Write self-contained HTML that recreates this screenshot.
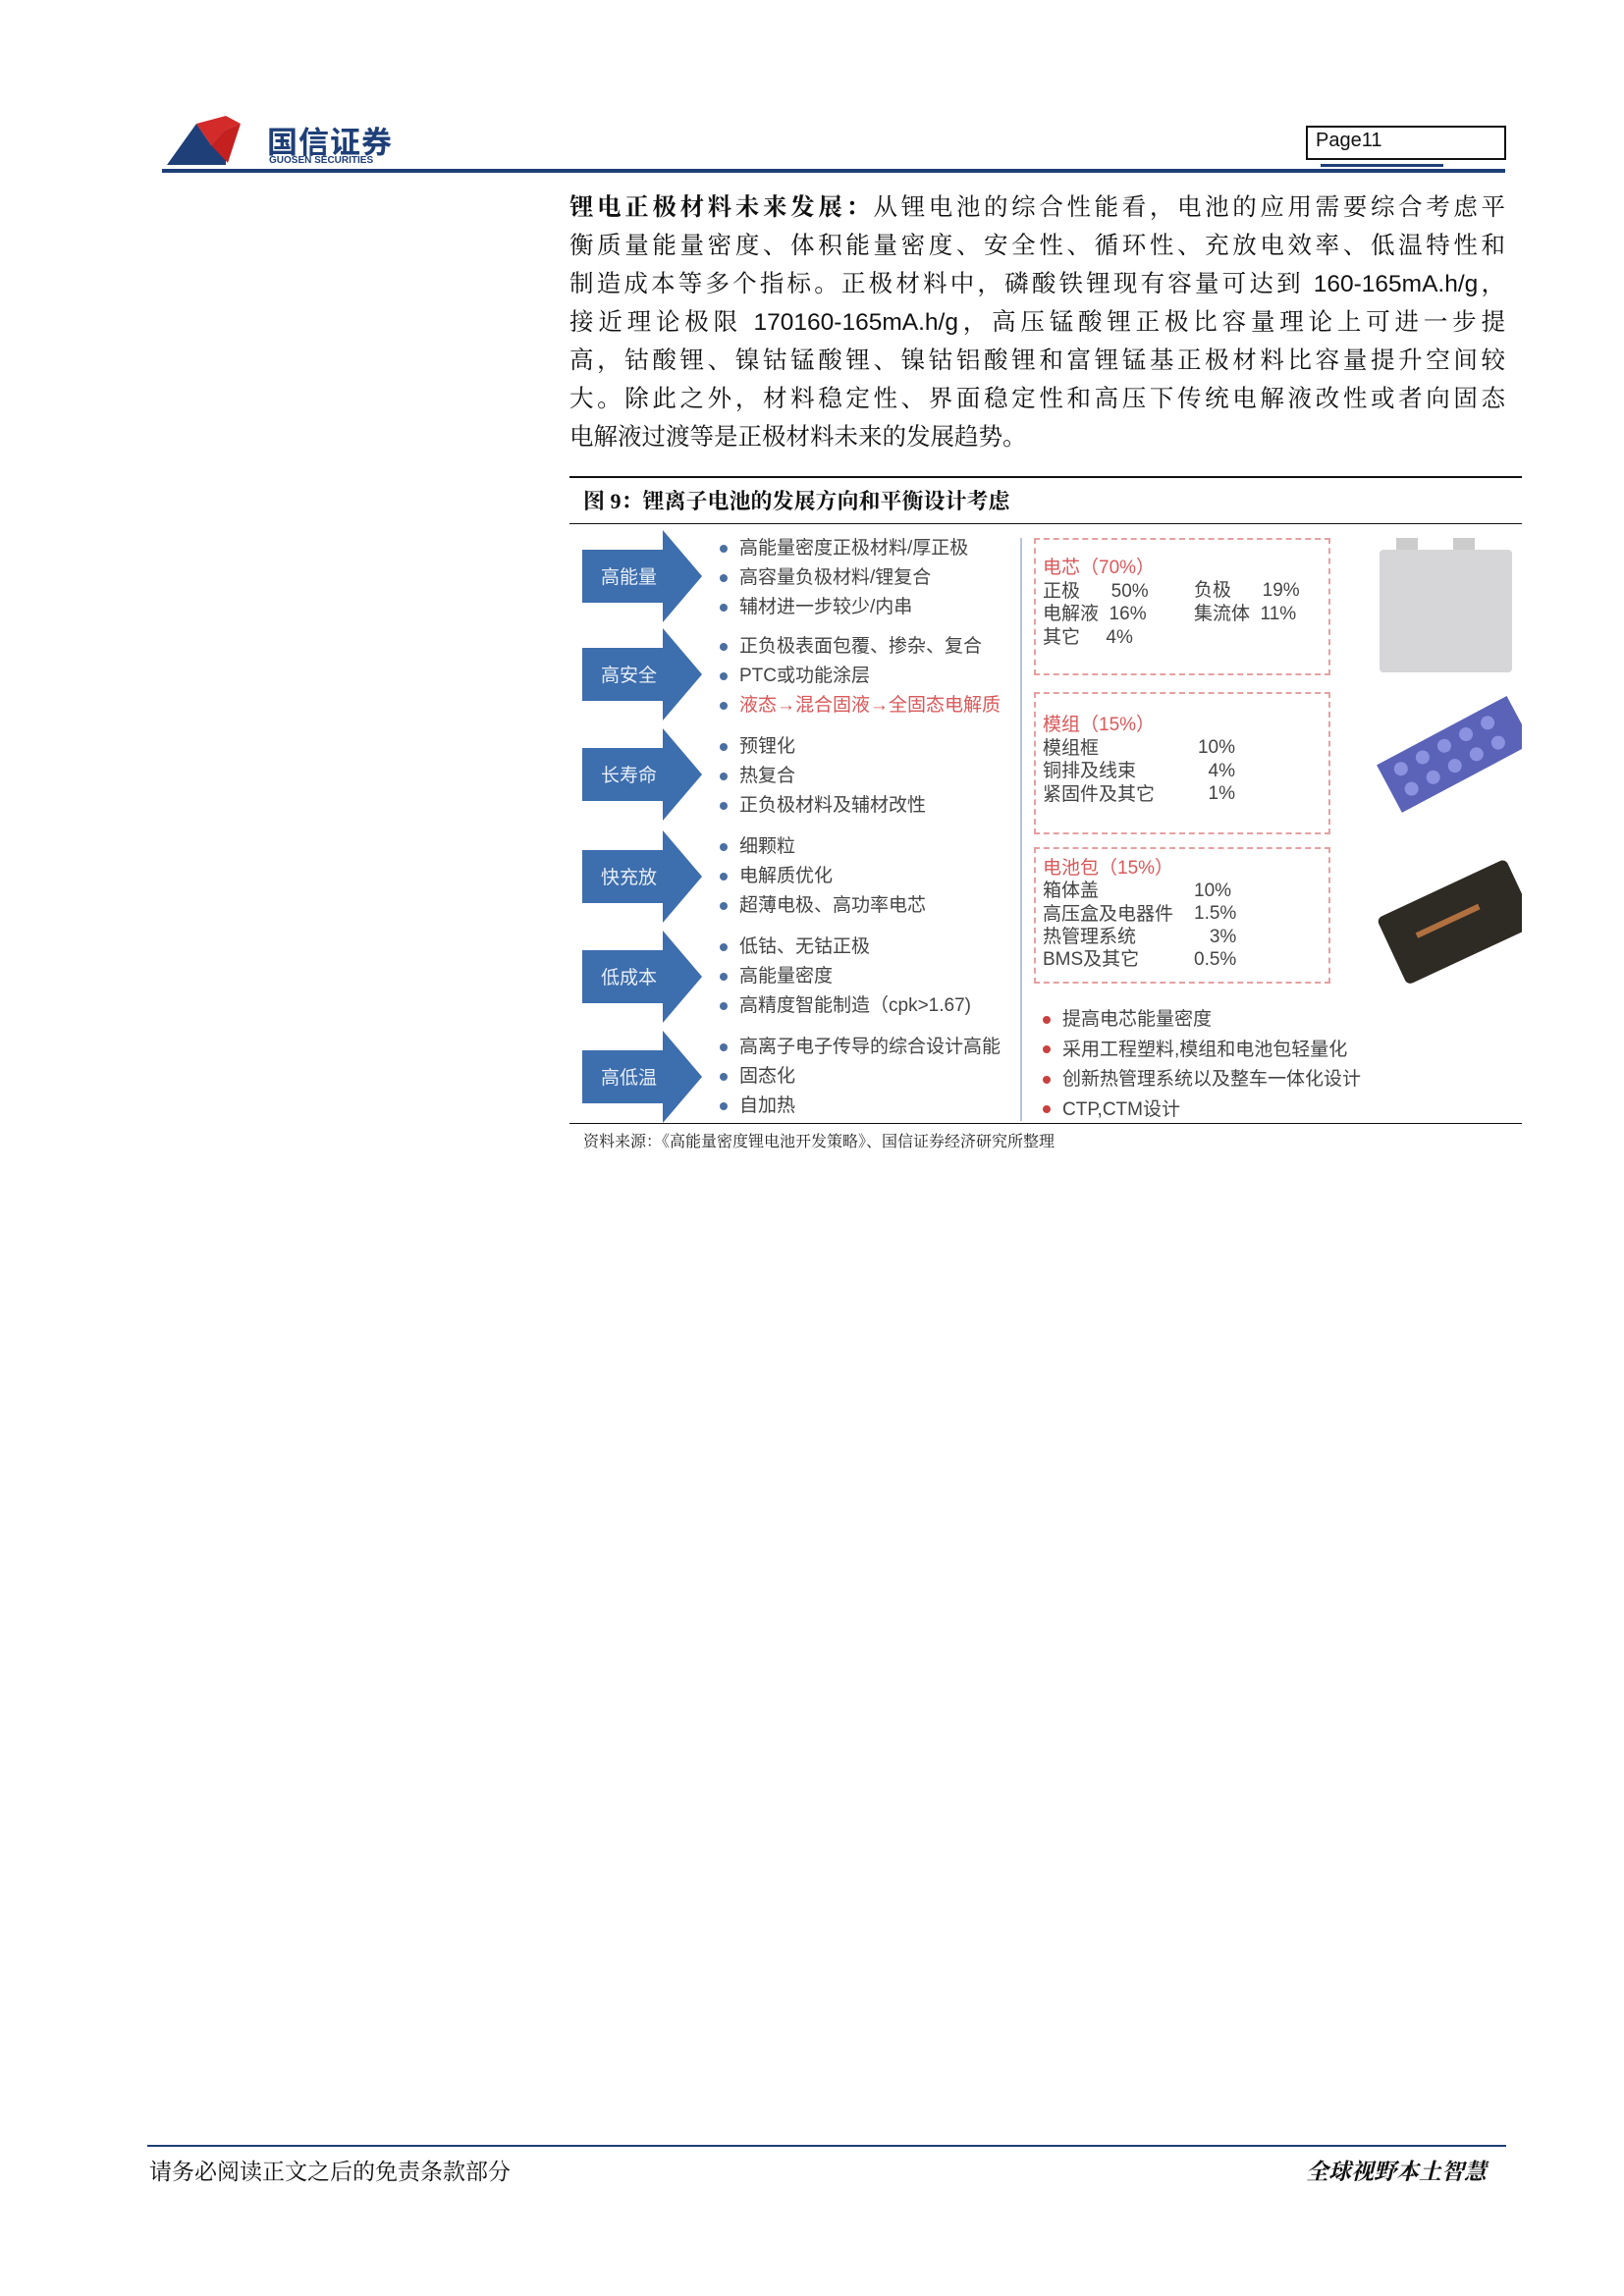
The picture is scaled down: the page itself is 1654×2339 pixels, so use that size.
<!DOCTYPE html>
<html><head><meta charset="utf-8"><style>
body{margin:0;background:#fff;}
#p{position:relative;width:1654px;height:2339px;overflow:hidden;font-family:"Liberation Sans","Noto Sans CJK SC",sans-serif;}
.a{position:absolute;white-space:nowrap;}
.ln{position:absolute;left:580px;width:953px;height:39px;font-family:"Liberation Sans","Noto Serif CJK SC",serif;font-size:24.5px;line-height:39px;color:#111;text-align:justify;text-align-last:justify;white-space:nowrap;}
.t{font-size:19px;color:#444;}
.d{display:inline-block;width:8px;height:8px;border-radius:50%;background:#4a6fa0;margin-right:12px;vertical-align:middle;}
.rd{background:#c8413f;}
.box{position:absolute;border:2px dashed #e6a0a0;}
.r{color:#d9585a;}
</style></head><body><div id="p">
<!-- logo -->
<svg class="a" style="left:170px;top:118px" width="100" height="58" viewBox="0 0 100 58">
<polygon points="0,50 30,8 45,30 60,14 60,50" fill="#1e3f78"/>
<polygon points="30,8 60,0 75,8 60,14 45,30" fill="#d32a2a"/>
<polygon points="45,30 60,14 75,8 62,48" fill="#c42020"/>
</svg>
<div class="a" style="left:272px;top:120px;font-size:31px;font-weight:bold;color:#1e3f78;letter-spacing:1px">国信证券</div>
<div class="a" style="left:274px;top:158px;font-size:10px;font-weight:bold;color:#1e3f78">GUOSEN SECURITIES</div>
<div class="a" style="left:165px;top:172px;width:1368px;height:4px;background:#1e3f78"></div>
<div class="a" style="left:1330px;top:128px;width:200px;height:31px;border:2px solid #111;"></div>
<div class="a" style="left:1340px;top:132px;font-size:20px;color:#111">Page11</div>
<div class="a" style="left:1345px;top:167px;width:125px;height:3px;background:#1e3f78"></div>

<div class="ln" style="top:192px"><b>锂电正极材料未来发展：</b>从锂电池的综合性能看，电池的应用需要综合考虑平</div>
<div class="ln" style="top:231px">衡质量能量密度、体积能量密度、安全性、循环性、充放电效率、低温特性和</div>
<div class="ln" style="top:270px">制造成本等多个指标。正极材料中，磷酸铁锂现有容量可达到 160-165mA.h/g，</div>
<div class="ln" style="top:309px">接近理论极限 170160-165mA.h/g，高压锰酸锂正极比容量理论上可进一步提</div>
<div class="ln" style="top:348px">高，钴酸锂、镍钴锰酸锂、镍钴铝酸锂和富锂锰基正极材料比容量提升空间较</div>
<div class="ln" style="top:387px">大。除此之外，材料稳定性、界面稳定性和高压下传统电解液改性或者向固态</div>
<div class="ln" style="top:426px;text-align-last:left">电解液过渡等是正极材料未来的发展趋势。</div>

<div class="a" style="left:580px;top:485px;width:970px;height:2px;background:#111"></div>
<div class="a" style="left:594px;top:494px;font-size:22px;font-weight:bold;font-family:'Liberation Serif','Noto Serif CJK SC',serif;color:#111">图 9：锂离子电池的发展方向和平衡设计考虑</div>
<div class="a" style="left:580px;top:533px;width:970px;height:1px;background:#111"></div>

<!-- arrows -->
<svg class="a" style="left:590px;top:540px" width="130" height="605">
<g fill="#3d6eae">
<polygon points="3,20 85,20 85,0 125,47 85,94 85,74 3,74"/>
<polygon points="3,120 85,120 85,100 125,147 85,194 85,174 3,174"/>
<polygon points="3,222 85,222 85,202 125,249 85,296 85,276 3,276"/>
<polygon points="3,326 85,326 85,306 125,353 85,400 85,380 3,380"/>
<polygon points="3,428 85,428 85,408 125,455 85,502 85,482 3,482"/>
<polygon points="3,530 85,530 85,510 125,557 85,604 85,584 3,584"/>
</g>
<g fill="#e8eef7" font-size="19" font-family="Liberation Sans,Noto Sans CJK SC,sans-serif">
<text x="22" y="54">高能量</text><text x="22" y="154">高安全</text><text x="22" y="256">长寿命</text>
<text x="22" y="360">快充放</text><text x="22" y="462">低成本</text><text x="22" y="564">高低温</text>
</g></svg>

<div class="a t" style="left:733px;top:544px;line-height:30px">
<div><span class="d"></span>高能量密度正极材料/厚正极</div>
<div><span class="d"></span>高容量负极材料/锂复合</div>
<div><span class="d"></span>辅材进一步较少/内串</div>
</div>
<div class="a t" style="left:733px;top:644px;line-height:30px">
<div><span class="d"></span>正负极表面包覆、掺杂、复合</div>
<div><span class="d"></span>PTC或功能涂层</div>
<div class="r"><span class="d"></span>液态→混合固液→全固态电解质</div>
</div>
<div class="a t" style="left:733px;top:746px;line-height:30px">
<div><span class="d"></span>预锂化</div>
<div><span class="d"></span>热复合</div>
<div><span class="d"></span>正负极材料及辅材改性</div>
</div>
<div class="a t" style="left:733px;top:848px;line-height:30px">
<div><span class="d"></span>细颗粒</div>
<div><span class="d"></span>电解质优化</div>
<div><span class="d"></span>超薄电极、高功率电芯</div>
</div>
<div class="a t" style="left:733px;top:950px;line-height:30px">
<div><span class="d"></span>低钴、无钴正极</div>
<div><span class="d"></span>高能量密度</div>
<div><span class="d"></span>高精度智能制造（cpk&gt;1.67)</div>
</div>
<div class="a t" style="left:733px;top:1052px;line-height:30px">
<div><span class="d"></span>高离子电子传导的综合设计高能</div>
<div><span class="d"></span>固态化</div>
<div><span class="d"></span>自加热</div>
</div>

<div class="a" style="left:1039px;top:548px;width:2px;height:594px;background:#b8c4d4"></div>

<div class="box" style="left:1053px;top:548px;width:298px;height:136px"></div>
<div class="box" style="left:1053px;top:705px;width:298px;height:141px"></div>
<div class="box" style="left:1053px;top:863px;width:298px;height:135px"></div>

<div class="a t" style="left:1062px;top:567px;line-height:23.5px">
<div class="r">电芯（70%）</div>
<div>正极&nbsp;&nbsp;&nbsp;&nbsp;&nbsp;&nbsp;50%</div><div>电解液&nbsp;&nbsp;16%</div><div>其它&nbsp;&nbsp;&nbsp;&nbsp;&nbsp;4%</div>
</div>
<div class="a t" style="left:1216px;top:590px;line-height:23.5px"><div>负极&nbsp;&nbsp;&nbsp;&nbsp;&nbsp;&nbsp;19%</div><div>集流体&nbsp;&nbsp;11%</div></div>

<div class="a t" style="left:1062px;top:727px;line-height:23.5px">
<div class="r">模组（15%）</div><div>模组框</div><div>铜排及线束</div><div>紧固件及其它</div></div>
<div class="a t" style="left:1216px;top:750px;line-height:23.5px;text-align:right;width:42px"><div>10%</div><div>4%</div><div>1%</div></div>

<div class="a t" style="left:1062px;top:873px;line-height:23.3px">
<div class="r">电池包（15%）</div><div>箱体盖</div><div>高压盒及电器件</div><div>热管理系统</div><div>BMS及其它</div></div>
<div class="a t" style="left:1216px;top:896px;line-height:23.3px"><div>10%</div><div>1.5%</div><div>&nbsp;&nbsp;&nbsp;3%</div><div>0.5%</div></div>

<div class="a t" style="left:1062px;top:1024px;line-height:30.5px">
<div><span class="d rd"></span>提高电芯能量密度</div>
<div><span class="d rd"></span>采用工程塑料,模组和电池包轻量化</div>
<div><span class="d rd"></span>创新热管理系统以及整车一体化设计</div>
<div><span class="d rd"></span>CTP,CTM设计</div>
</div>

<!-- images -->
<svg class="a" style="left:1400px;top:548px" width="150" height="460">
<rect x="22" y="0" width="22" height="14" fill="#ccc"/><rect x="80" y="0" width="22" height="14" fill="#ccc"/>
<rect x="5" y="12" width="135" height="125" rx="4" fill="#d6d6d8"/>
<g transform="translate(8,165) rotate(-28 70 60)">
<rect x="0" y="30" width="150" height="55" fill="#5a63b8"/>
<g fill="#8b93e0"><circle cx="20" cy="45" r="7"/><circle cx="45" cy="45" r="7"/><circle cx="70" cy="45" r="7"/><circle cx="95" cy="45" r="7"/><circle cx="120" cy="45" r="7"/>
<circle cx="20" cy="68" r="7"/><circle cx="45" cy="68" r="7"/><circle cx="70" cy="68" r="7"/><circle cx="95" cy="68" r="7"/><circle cx="120" cy="68" r="7"/></g>
</g>
<g transform="translate(10,340) rotate(-25 70 50)">
<rect x="0" y="15" width="145" height="75" rx="6" fill="#2e2a24"/>
<rect x="30" y="45" width="70" height="6" fill="#b07040"/>
</g>
</svg>

<div class="a" style="left:580px;top:1144px;width:970px;height:1px;background:#111"></div>
<div class="a" style="left:594px;top:1150px;font-size:16px;font-family:'Liberation Serif','Noto Serif CJK SC',serif;color:#222">资料来源：《高能量密度锂电池开发策略》、国信证券经济研究所整理</div>

<div class="a" style="left:150px;top:2185px;width:1384px;height:2px;background:#1e3f78"></div>
<div class="a" style="left:152px;top:2194px;font-size:23px;font-family:'Liberation Serif','Noto Serif CJK SC',serif;color:#111">请务必阅读正文之后的免责条款部分</div>
<div class="a" style="left:1330px;top:2194px;font-size:23px;font-weight:bold;font-style:italic;font-family:'Liberation Serif','Noto Serif CJK SC',serif;color:#111">全球视野本土智慧</div>
</div></body></html>
